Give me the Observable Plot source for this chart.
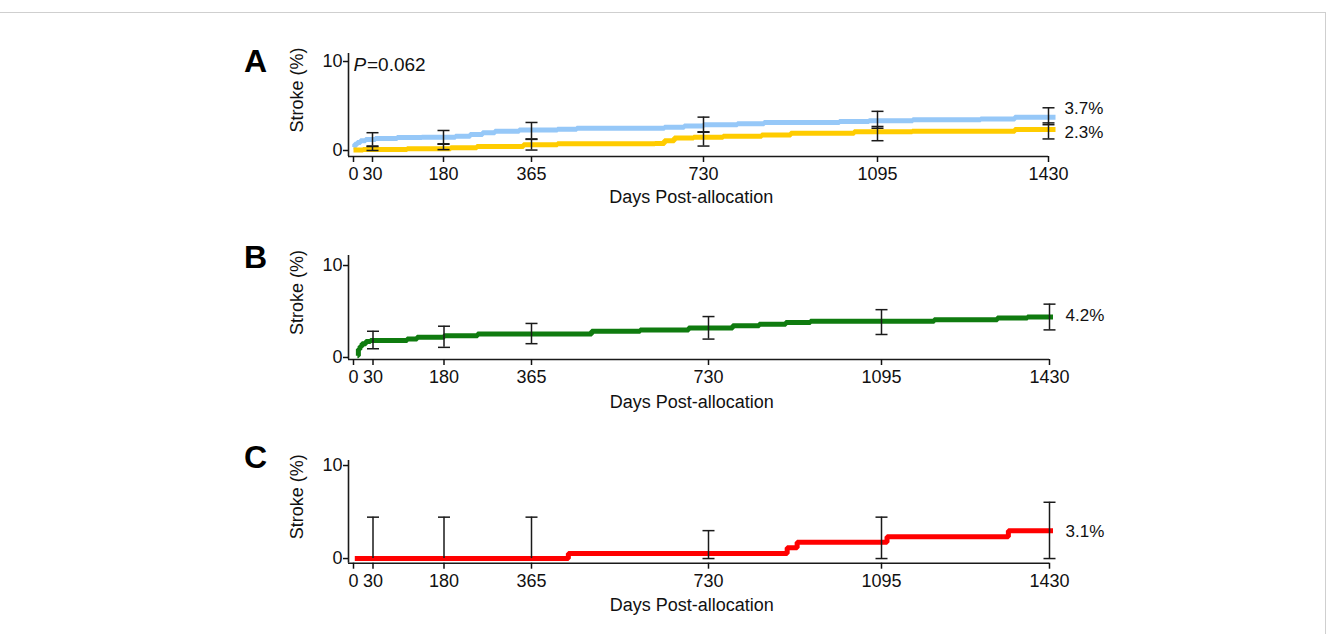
<!DOCTYPE html>
<html>
<head>
<meta charset="utf-8">
<script src="https://cdn.jsdelivr.net/npm/d3@7"></script>
<script src="https://cdn.jsdelivr.net/npm/@observablehq/plot@0.6"></script>
<style>
  body { margin: 0; background: #fff; }
  #wrap { position: relative; width: 1327px; height: 634px; overflow: hidden; background: #fff; }
  #wrap svg { position: absolute; left: 0; top: 0; }
  .box { position: absolute; left: 0; top: 12px; width: 1325px; height: 640px; border-top: 1px solid #cfcfcf; border-right: 1px solid #cfcfcf; }
</style>
</head>
<body>
<div id="wrap"><div class="box"></div></div>
<script>
// ---------------- data ----------------
const xTicks = [0, 30, 180, 365, 730, 1095, 1430];
const yTicks = [0, 10];
const ciDays = [30, 180, 365, 730, 1095, 1430];
const xTitle = "Days Post-allocation";
const yTitle = "Stroke (%)";
const pValue = "=0.062";

// Panel A – two groups
const aBlueDays = [0, 2, 6, 11, 19, 36, 82, 134, 205, 236, 262, 288, 339, 420, 461, 647, 689, 730, 801, 857, 1015, 1077, 1164, 1297, 1364, 1444];
const aBluePct  = [0.4, 0.7, 0.9, 1.1, 1.25, 1.35, 1.45, 1.5, 1.6, 1.8, 2.0, 2.15, 2.3, 2.4, 2.5, 2.6, 2.75, 2.9, 3.0, 3.15, 3.25, 3.35, 3.45, 3.55, 3.75, 3.75];
const aBlueLo   = [0.5, 0.7, 1.3, 2.1, 2.5, 2.9];
const aBlueHi   = [2.0, 2.25, 3.15, 3.75, 4.4, 4.8];

const aGoldDays = [0, 15, 103, 195, 250, 348, 420, 627, 647, 668, 709, 771, 852, 913, 1046, 1163, 1364, 1444];
const aGoldPct  = [0.05, 0.1, 0.2, 0.3, 0.45, 0.65, 0.75, 0.8, 1.1, 1.4, 1.5, 1.6, 1.75, 1.95, 2.1, 2.15, 2.35, 2.35];
const aGoldLo   = [0.0, 0.1, 0.05, 0.5, 1.1, 1.3];
const aGoldHi   = [0.45, 0.75, 1.25, 2.05, 2.7, 3.1];

// Panel B
const bDays = [6, 7.5, 10, 13, 19, 26, 102, 123, 180, 251, 489, 589, 689, 781, 837, 893, 945, 1200, 1326, 1386, 1437];
const bPct  = [0.2, 0.9, 1.2, 1.5, 1.75, 1.85, 2.0, 2.2, 2.35, 2.55, 2.85, 3.0, 3.2, 3.45, 3.6, 3.8, 3.95, 4.1, 4.3, 4.4, 4.4];
const bLo   = [0.95, 1.1, 1.5, 2.0, 2.5, 3.0];
const bHi   = [2.85, 3.4, 3.7, 4.45, 5.2, 5.8];

// Panel C
const cDays = [2, 441, 896, 917, 1106, 1348, 1437];
const cPct  = [0, 0.55, 1.15, 1.75, 2.35, 3.0, 3.0];
const cLo   = [0, 0, 0, 0, 0, 0];
const cHi   = [4.45, 4.45, 4.45, 3.0, 4.45, 6.05];

const endLabelsA = ["3.7%", "2.3%"];
const endLabelsB = ["4.2%"];
const endLabelsC = ["3.1%"];

// ---------------- helpers ----------------
const W = 1327, H = 634;
// piecewise time axis (the original axis is not evenly spaced)
const xDomain = [-10, 0, 30, 180, 365, 730, 1095, 1430, 1445];
const font = "'Liberation Sans', Arial, Helvetica, sans-serif";

const curve = (days, pct) => days.map((d, i) => ({day: d, pct: pct[i]}));
const ci = (lo, hi) => ciDays.map((d, i) => ({day: d, lo: lo[i], hi: hi[i]}));
const caps = (rows) => rows.flatMap(r => [{day: r.day, v: r.lo}, {day: r.day, v: r.hi}]);
const capSymbol = {
  draw(context, size) {
    const r = Math.sqrt(size / Math.PI);
    context.moveTo(-r, 0);
    context.lineTo(r, 0);
  }
};

function panel(cfg) {
  const yDomain = cfg.yDomain;
  const xr = cfg.xRange;
  const warp = d3.scaleLinear().domain(xDomain).range(xr);
  const marks = [
    Plot.ruleX([xDomain[0]], {y1: yDomain[0], y2: yDomain[1], stroke: "#1a1a1a", strokeWidth: 1.6}),
    Plot.ruleY([yDomain[0]], {x1: xDomain[0], x2: xTicks[xTicks.length - 1], stroke: "#1a1a1a", strokeWidth: 1.6}),
    Plot.axisX({ticks: xTicks.map(warp), tickSize: 6, tickPadding: 5, fontSize: 18, label: null, strokeWidth: 1.5, tickFormat: (d, i) => String(xTicks[i])}),
    Plot.axisY({ticks: yTicks, tickSize: 5, tickPadding: 1, fontSize: 18, label: null, strokeWidth: 1.5}),
  ];
  const lineMarks = cfg.series.map(s =>
    Plot.line(s.data, {x: "day", y: "pct", curve: "step-after", stroke: s.color, strokeWidth: 5, strokeLinejoin: "miter", strokeLinecap: "butt"})
  );
  const allCi = cfg.series.flatMap(s => s.ci);
  const ruleMark = Plot.ruleX(allCi, {x: "day", y1: "lo", y2: "hi", stroke: "#1a1a1a", strokeWidth: 1.5});
  const capMark = Plot.dot(caps(allCi), {x: "day", y: "v", symbol: capSymbol, r: 6, stroke: "#1a1a1a", strokeWidth: 1.5, fill: "none"});
  if (cfg.capsUnder) marks.push(capMark, ...lineMarks, ruleMark);
  else marks.push(...lineMarks, ruleMark, capMark);

  cfg.series.forEach(s => {
    marks.push(Plot.text([s.label], {x: xTicks[xTicks.length - 1], y: s.labelPct, text: d => d, dx: 16, dy: s.labelDy, textAnchor: "start", fontSize: 17, fill: "#111"}));
  });
  marks.push(
    Plot.text([cfg.letter], {frameAnchor: "top-left", text: d => d, dx: -93, dy: cfg.letterDy, textAnchor: "middle", lineAnchor: "middle", fontSize: 32, fontWeight: "bold", fill: "#000"}),
    Plot.text([yTitle], {frameAnchor: "left", text: d => d, rotate: -90, dx: -51, dy: -15, textAnchor: "middle", lineAnchor: "middle", fontSize: 18, fill: "#111"}),
    Plot.text([xTitle], {frameAnchor: "bottom", text: d => d, dx: -11, dy: cfg.titleDy, textAnchor: "middle", lineAnchor: "middle", fontSize: 18, fill: "#111"})
  );
  if (cfg.pLabel) {
    marks.push(
      Plot.text(["P"], {frameAnchor: "top-left", text: d => d, dx: 5, dy: 11, textAnchor: "start", lineAnchor: "middle", fontSize: 19, fontStyle: "italic", fill: "#111"}),
      Plot.text([pValue], {frameAnchor: "top-left", text: d => d, dx: 18.5, dy: 11, textAnchor: "start", lineAnchor: "middle", fontSize: 19, fill: "#111"})
    );
  }
  return Plot.plot({
    width: W, height: H,
    marginLeft: xr[0], marginRight: W - xr[xr.length - 1],
    marginTop: cfg.frameTop, marginBottom: H - cfg.frameBottom,
    x: {transform: warp, domain: [xr[0], xr[xr.length - 1]]},
    y: {domain: yDomain},
    style: {fontFamily: font, color: "#111", background: "transparent", overflow: "visible"},
    marks
  });
}

const wrap = document.getElementById("wrap");
wrap.appendChild(panel({
  frameTop: 53, frameBottom: 156, yDomain: [-0.674, 10.9], letter: "A", letterDy: 8.5, titleDy: 41, pLabel: true,
  xRange: [348, 353, 372, 443, 531, 703, 877, 1048, 1055.5],
  series: [
    {data: curve(aBlueDays, aBluePct), color: "#96c8f8", ci: ci(aBlueLo, aBlueHi), label: endLabelsA[0], labelPct: 3.7, labelDy: -9},
    {data: curve(aGoldDays, aGoldPct), color: "#ffcc00", ci: ci(aGoldLo, aGoldHi), label: endLabelsA[1], labelPct: 2.3, labelDy: 2.5}
  ]
}));
wrap.appendChild(panel({
  frameTop: 255, frameBottom: 359, yDomain: [-0.22, 11.09], letter: "B", letterDy: 2.5, titleDy: 43,
  xRange: [348, 353, 372.5, 443.5, 531, 708, 881, 1049, 1056.5],
  series: [
    {data: curve(bDays, bPct), color: "#0f7b0f", ci: ci(bLo, bHi), label: endLabelsB[0], labelPct: 4.2, labelDy: -3}
  ]
}));
wrap.appendChild(panel({
  frameTop: 460, frameBottom: 562.7, yDomain: [-0.5, 10.54], letter: "C", letterDy: -2.5, titleDy: 42, capsUnder: true,
  xRange: [348, 353, 372.5, 443.5, 531, 708, 881, 1049, 1056.5],
  series: [
    {data: curve(cDays, cPct), color: "#ff0000", ci: ci(cLo, cHi), label: endLabelsC[0], labelPct: 3.1, labelDy: 1.5}
  ]
}));
</script>
</body>
</html>
